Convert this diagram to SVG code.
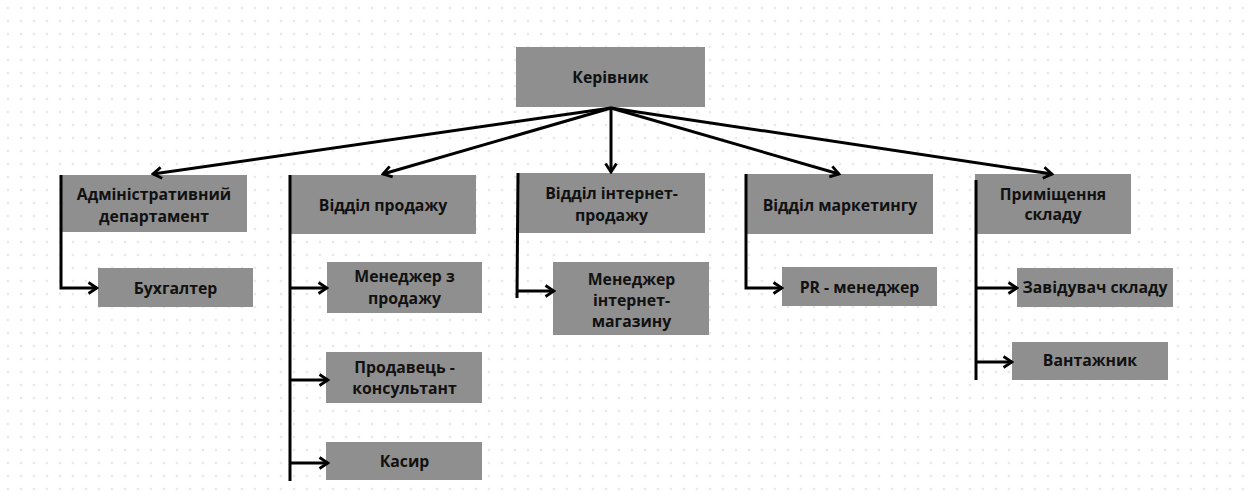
<svg xmlns="http://www.w3.org/2000/svg" width="1252" height="499" viewBox="0 0 1252 499">
  <style>
    .box { fill: #8f8f8f; }
    .lbl { font-family: "Open Sans", "Noto Sans", "Liberation Sans", sans-serif; font-weight: 700; font-size: 15.8px; fill: #111111; text-anchor: middle; }
    .con { fill: none; stroke: #000; stroke-width: 3; }
    .arr { marker-end: url(#arrow); }
  </style>
  <defs>
    <pattern id="dots" x="1.5" y="1.5" width="13" height="13" patternUnits="userSpaceOnUse">
      <circle cx="6.5" cy="6.5" r="0.9" fill="#cfcfcf"/>
    </pattern>
    <marker id="arrow" viewBox="0 0 12 14" refX="10" refY="7" markerWidth="12" markerHeight="14" markerUnits="userSpaceOnUse" orient="auto">
      <path d="M1.5,1.5 L10,7 L1.5,12.5" fill="none" stroke="#000" stroke-width="2.8" stroke-linejoin="miter"/>
    </marker>
  </defs>
  <rect width="1252" height="499" fill="#ffffff"/>
  <rect width="1252" height="499" fill="url(#dots)"/>

  <g id="nodes">
    <g id="kerivnyk">
      <rect class="box" x="516" y="47" width="189" height="60"/>
      <text class="lbl" x="610.5" y="83">Керівник</text>
    </g>
    <g id="admin">
      <rect class="box" x="60" y="175" width="187" height="57"/>
      <text class="lbl" x="154" y="200">Адміністративний</text>
      <text class="lbl" x="154" y="221.5">департамент</text>
    </g>
    <g id="buhgalter">
      <rect class="box" x="98" y="268" width="155" height="39"/>
      <text class="lbl" x="175.5" y="293.5">Бухгалтер</text>
    </g>
    <g id="sales">
      <rect class="box" x="290" y="175" width="186" height="59"/>
      <text class="lbl" x="383" y="210.5">Відділ продажу</text>
    </g>
    <g id="sales-manager">
      <rect class="box" x="327" y="262" width="155" height="51"/>
      <text class="lbl" x="404.5" y="282">Менеджер з</text>
      <text class="lbl" x="404.5" y="303.5">продажу</text>
    </g>
    <g id="consultant">
      <rect class="box" x="326" y="352" width="156" height="51"/>
      <text class="lbl" x="404.5" y="372.5">Продавець -</text>
      <text class="lbl" x="404.5" y="394">консультант</text>
    </g>
    <g id="kasyr">
      <rect class="box" x="326" y="442" width="156" height="38"/>
      <text class="lbl" x="404.5" y="467">Касир</text>
    </g>
    <g id="internet">
      <rect class="box" x="518" y="173" width="187" height="60"/>
      <text class="lbl" x="611.5" y="199">Відділ інтернет-</text>
      <text class="lbl" x="611.5" y="220.5">продажу</text>
    </g>
    <g id="internet-manager">
      <rect class="box" x="553" y="262" width="156" height="73"/>
      <text class="lbl" x="631.5" y="285">Менеджер</text>
      <text class="lbl" x="631.5" y="306">інтернет-</text>
      <text class="lbl" x="631.5" y="327">магазину</text>
    </g>
    <g id="marketing">
      <rect class="box" x="747" y="174" width="186" height="60"/>
      <text class="lbl" x="840" y="210.5">Відділ маркетингу</text>
    </g>
    <g id="pr-manager">
      <rect class="box" x="782" y="267" width="155" height="39"/>
      <text class="lbl" x="859.5" y="292.5">PR - менеджер</text>
    </g>
    <g id="warehouse">
      <rect class="box" x="975" y="174" width="156" height="60"/>
      <text class="lbl" x="1053" y="199.5">Приміщення</text>
      <text class="lbl" x="1053" y="220">складу</text>
    </g>
    <g id="warehouse-head">
      <rect class="box" x="1017" y="268" width="156" height="39"/>
      <text class="lbl" x="1095" y="292.5">Завідувач складу</text>
    </g>
    <g id="loader">
      <rect class="box" x="1012" y="342" width="156" height="38"/>
      <text class="lbl" x="1090" y="366">Вантажник</text>
    </g>
  </g>

  <g id="connectors">
    <line class="con arr" x1="611" y1="108" x2="153" y2="174"/>
    <line class="con arr" x1="611" y1="108" x2="383" y2="174"/>
    <line class="con arr" x1="611" y1="108" x2="611" y2="172"/>
    <line class="con arr" x1="611" y1="108" x2="839" y2="174"/>
    <line class="con arr" x1="611" y1="108" x2="1052" y2="174"/>

    <path class="con arr" d="M61,175 V288 H97"/>

    <line class="con" x1="290" y1="175" x2="290" y2="481"/>
    <line class="con arr" x1="290" y1="288" x2="327" y2="288"/>
    <line class="con arr" x1="290" y1="380" x2="328" y2="380"/>
    <line class="con arr" x1="290" y1="463" x2="328" y2="463"/>

    <line class="con" x1="518" y1="173" x2="517" y2="298"/>
    <line class="con arr" x1="517" y1="291" x2="554" y2="291"/>

    <path class="con arr" d="M746,174 V288 H782"/>

    <line class="con" x1="976" y1="180" x2="976" y2="380"/>
    <line class="con arr" x1="976" y1="288" x2="1017" y2="288"/>
    <line class="con arr" x1="976" y1="362" x2="1012" y2="362"/>
  </g>
</svg>
